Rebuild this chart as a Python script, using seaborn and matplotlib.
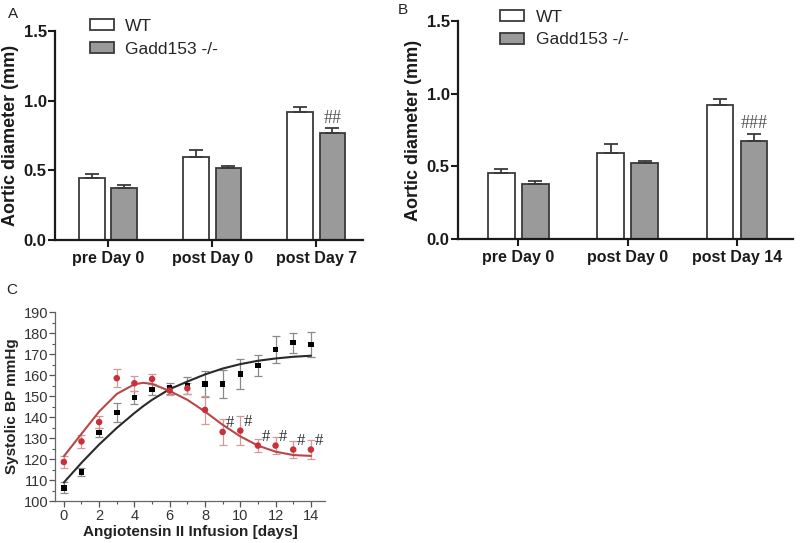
import numpy as np
import pandas as pd
import matplotlib
matplotlib.use("Agg")
import matplotlib.pyplot as plt
from matplotlib.ticker import MultipleLocator
import seaborn as sns

sns.set_theme(style="ticks")
plt.rcParams['font.family'] = ['Liberation Sans', 'DejaVu Sans']

# ---------------- data ----------------
groups_a = ["pre Day 0", "post Day 0", "post Day 7"]
groups_b = ["pre Day 0", "post Day 0", "post Day 14"]
genotypes = ["WT", "Gadd153 -/-"]

a_wt = [0.445, 0.595, 0.917]
a_wt_err = [0.031, 0.048, 0.040]
a_ko = [0.374, 0.517, 0.767]
a_ko_err = [0.024, 0.014, 0.035]

b_wt = [0.452, 0.594, 0.925]
b_wt_err = [0.030, 0.057, 0.036]
b_ko = [0.378, 0.525, 0.678]
b_ko_err = [0.023, 0.014, 0.046]

days = list(range(15))
bp_black = [106.3, 113.9, 132.7, 142.2, 149.3, 153.2, 153.7, 155.0, 155.8, 155.8, 160.5, 164.5, 172.2, 175.4, 174.6]
bp_black_err = [2.7, 2.0, 2.0, 4.7, 3.3, 2.7, 2.5, 4.0, 6.3, 6.5, 7.0, 5.0, 6.3, 4.7, 5.8]
bp_red = [118.6, 128.4, 137.6, 158.5, 156.1, 158.1, 152.6, 153.7, 143.4, 132.9, 133.5, 126.4, 126.4, 124.5, 124.5]
bp_red_err = [2.7, 3.0, 2.7, 4.3, 3.5, 2.4, 2.1, 2.7, 6.5, 6.3, 7.0, 3.2, 4.0, 4.0, 4.7]

curve_days = [0, 1, 2, 3, 4, 4.5, 5, 6, 7, 8, 9, 10, 11, 12, 13, 14]
curve_black = [108.8, 118.2, 126.9, 134.8, 141.9, 145.2, 148.2, 153.3, 156.9, 160.3, 163.1, 165.2, 166.8, 167.9, 168.7, 169.2]
curve_red = [121.3, 132.0, 142.6, 151.0, 155.6, 156.3, 155.8, 152.4, 148.2, 142.6, 136.3, 130.8, 126.4, 123.5, 121.9, 121.5]
hash_days = [9, 10, 11, 12, 13, 14]

# ---------------- figure ----------------
fig = plt.figure(figsize=(8.0, 5.43), dpi=100)

BAR_EDGE = "#3a3a3a"
GRAY = "#9a9a9a"


def bar_panel(ax, groups, wt, wt_err, ko, ko_err, mark, xlim):
    df = pd.DataFrame({
        "group": groups * 2,
        "genotype": [genotypes[0]] * 3 + [genotypes[1]] * 3,
        "value": wt + ko,
    })
    sns.barplot(data=df, x="group", y="value", hue="genotype", order=groups,
                hue_order=genotypes, palette=["white", GRAY], width=0.62,
                gap=0.21, edgecolor=BAR_EDGE, linewidth=1.3, errorbar=None,
                ax=ax, legend=True)
    errs = [wt_err, ko_err]
    for cont, err in zip(ax.containers, errs):
        for bar, e in zip(cont, err):
            xc = bar.get_x() + bar.get_width() / 2
            h = bar.get_height()
            ax.errorbar([xc], [h], yerr=[[0], [e]], fmt="none", ecolor=BAR_EDGE,
                        elinewidth=1.3, capsize=5, capthick=1.3, zorder=1)
    last = ax.containers[1][2]
    xc = last.get_x() + last.get_width() / 2
    ax.text(xc, ko[2] + ko_err[2] + 0.012, mark, ha="center", va="bottom",
            fontsize=13, color="#555555", family=["Liberation Serif"])
    ax.set_ylim(0, 1.5)
    ax.set_xlim(*xlim)
    ax.set_yticks([0, 0.5, 1.0, 1.5])
    ax.set_yticklabels(["0.0", "0.5", "1.0", "1.5"])
    ax.set_xlabel("")
    ax.set_ylabel("Aortic diameter (mm)", fontsize=13, fontweight="bold", labelpad=3,
                  color="#1a1a1a")
    for lab in ax.get_xticklabels():
        lab.set_fontweight("bold")
        lab.set_fontsize(11.5)
    for lab in ax.get_yticklabels():
        lab.set_fontweight("bold")
        lab.set_fontsize(12)
    ax.tick_params(axis="both", width=1.5, length=5, colors="#1a1a1a", pad=3)
    ax.tick_params(axis="y", pad=1)
    sns.despine(ax=ax)
    for s in ["left", "bottom"]:
        ax.spines[s].set_linewidth(1.6)
        ax.spines[s].set_color("#1a1a1a")


legend_kw = dict(loc="upper left", frameon=False, fontsize=12.5, handlelength=1.4,
                 handleheight=0.6, handletextpad=0.65, labelspacing=0.45,
                 borderaxespad=0)

axA = fig.add_axes([0.06875, 0.558, 0.385, 0.385])
bar_panel(axA, groups_a, a_wt, a_wt_err, a_ko, a_ko_err, "##", (-0.51, 2.45))
axA.legend(bbox_to_anchor=(0.09, 1.09), **legend_kw)

axB = fig.add_axes([0.5725, 0.560, 0.4185, 0.401])
bar_panel(axB, groups_b, b_wt, b_wt_err, b_ko, b_ko_err, "###", (-0.55, 2.51))
axB.legend(bbox_to_anchor=(0.105, 1.085), **legend_kw)

# ---------------- panel C ----------------
axC = fig.add_axes([0.06875, 0.0773, 0.3375, 0.348])
RED = "#c9303b"
RED_LINE = "#b84848"
ERR = "#8a8a8a"

axC.errorbar(days, bp_black, yerr=bp_black_err, fmt="none", ecolor=ERR,
             elinewidth=0.9, capsize=3, capthick=0.9, zorder=1)
axC.errorbar(days, bp_red, yerr=bp_red_err, fmt="none", ecolor="#d49a9a",
             elinewidth=0.9, capsize=3, capthick=0.9, zorder=1)
sns.lineplot(x=curve_days, y=curve_black, color="#2a2a2a", linewidth=1.5, ax=axC, zorder=2)
sns.lineplot(x=curve_days, y=curve_red, color=RED_LINE, linewidth=1.5, ax=axC, zorder=2)
sns.scatterplot(x=days, y=bp_black, marker="s", color="black", s=16,
                edgecolor="none", ax=axC, zorder=3)
sns.scatterplot(x=days, y=bp_red, marker="o", color=RED, s=22,
                edgecolor="none", ax=axC, zorder=4)
for d in hash_days:
    axC.text(d + 0.2, bp_red[d] + 0.3, "#", ha="left", va="bottom",
             fontsize=12, color="#333333", family=["Liberation Serif"])

axC.set_xlim(-0.5, 14.8)
axC.set_ylim(100, 190)
axC.xaxis.set_major_locator(MultipleLocator(2))
axC.xaxis.set_minor_locator(MultipleLocator(1))
axC.yaxis.set_major_locator(MultipleLocator(10))
axC.yaxis.set_minor_locator(MultipleLocator(5))
axC.set_xlabel("Angiotensin II Infusion [days]", fontsize=11, fontweight="bold",
               labelpad=1, color="#222222")
axC.set_ylabel("Systolic BP mmHg", fontsize=11, fontweight="bold", labelpad=3,
               color="#222222")
axC.tick_params(axis="both", which="major", length=4, width=0.9, colors="#555555",
                labelsize=10.5, labelcolor="#333333", pad=2)
axC.tick_params(axis="y", which="major", pad=1)
axC.tick_params(axis="both", which="minor", length=2.5, width=0.8, colors="#555555")
sns.despine(ax=axC)
for s in ["left", "bottom"]:
    axC.spines[s].set_linewidth(0.9)
    axC.spines[s].set_color("#666666")

# panel letters
fig.text(0.010, 0.975, "A", fontsize=11, color="#222222", va="center")
fig.text(0.497, 0.981, "B", fontsize=11, color="#222222", va="center")
fig.text(0.008, 0.466, "C", fontsize=11, color="#222222", va="center")

fig.savefig("out.png", dpi=100, facecolor="white")
